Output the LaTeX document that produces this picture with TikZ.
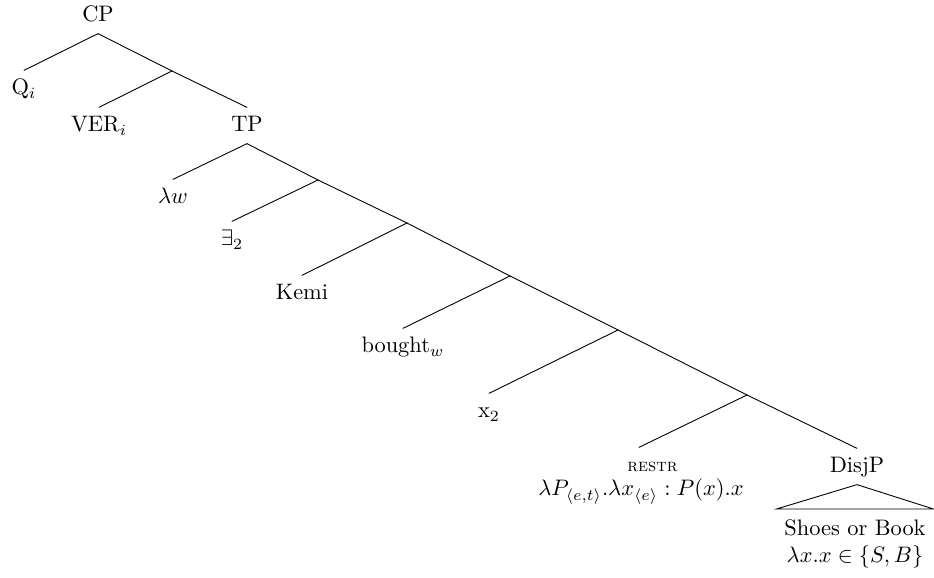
\documentclass[tikz,border=0pt]{standalone}
\begin{document}
\begin{tikzpicture}[x=0.4464pt,y=-0.4464pt,
  lbl/.style={anchor=base, text height=7.5pt, text depth=1.7pt, inner xsep=0pt, inner ysep=3.3pt},
  br/.style={line width=0.4pt, line cap=round}]
\useasboundingbox (0,0) rectangle (934,578);
% labels and junctions
\node[lbl] (cp) at (98,22) {CP};
\node[lbl] (q) at (24,95) {Q$_i$};
\coordinate (j1) at (172,71);
\node[lbl] (ver) at (99,132) {VER$_i$};
\node[lbl] (tp) at (247,132) {TP};
\node[lbl] (lw) at (173,204) {$\lambda w$};
\coordinate (j2) at (318,180);
\node[lbl] (ex) at (232,246) {$\exists_2$};
\coordinate (j3) at (407,223);
\node[lbl] (kemi) at (302,300) {Kemi};
\coordinate (j4) at (510,276);
\node[lbl] (bought) at (403,353) {bought$_w$};
\coordinate (j5) at (618,330);
\node[lbl] (x2) at (489,418) {x$_2$};
\coordinate (j6) at (747,395);
\node[lbl] (restr) at (639,472) {\hspace*{12pt}\footnotesize\textsc{restr}};
\node[anchor=base, inner sep=0pt] (restrf) at (641,496) {$\lambda P_{\langle e,t\rangle}.\lambda x_{\langle e\rangle} : P(x).x$};
\node[lbl] (disjp) at (857,473) {DisjP};
\node[anchor=north, align=center, inner xsep=3.33pt, inner ysep=4.5pt] (sob) at (855,509) {Shoes or Book\\ $\lambda x.x\in\{S,B\}$};
% branches
\draw[br] (cp.south) -- (q.north);
\draw[br] (cp.south) -- (j1);
\draw[br] (j1) -- (ver.north);
\draw[br] (j1) -- (tp.north);
\draw[br] (tp.south) -- (lw.north);
\draw[br] (tp.south) -- (j2);
\draw[br] (j2) -- (ex.north);
\draw[br] (j2) -- (j3);
\draw[br] (j3) -- (kemi.north);
\draw[br] (j3) -- (j4);
\draw[br] (j4) -- (bought.north);
\draw[br] (j4) -- (j5);
\draw[br] (j5) -- (x2.north);
\draw[br] (j5) -- (j6);
\draw[br] (j6) -- (restr.north);
\draw[br] (j6) -- (disjp.north);
\draw[br] (disjp.south) -- (sob.north west) -- (sob.north east) -- cycle;
\end{tikzpicture}
\end{document}
